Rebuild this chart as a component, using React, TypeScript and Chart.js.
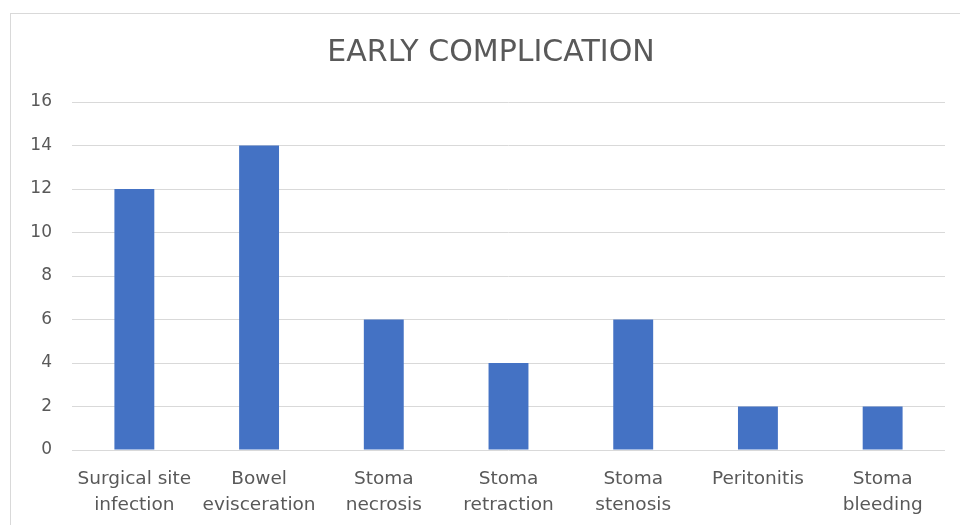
import React, { useEffect, useRef } from "react";
import { Chart, registerables } from "chart.js";

Chart.register(...registerables);

const categories: string[][] = [
  ["Surgical site", "infection"],
  ["Bowel", "evisceration"],
  ["Stoma", "necrosis"],
  ["Stoma", "retraction"],
  ["Stoma", "stenosis"],
  ["Peritonitis"],
  ["Stoma", "bleeding"],
];
const values: number[] = [12, 14, 6, 4, 6, 2, 2];
const yTicks: number[] = [0, 2, 4, 6, 8, 10, 12, 14, 16];
const titleText = "EARLY COMPLICATION";

const FONT = "'DejaVu Sans', 'Open Sans', sans-serif";
const TEXT = "#595959";

const titlePlugin = {
  id: "offsetTitle",
  afterDraw(chart: any) {
    const c = chart.ctx;
    c.save();
    c.fillStyle = TEXT;
    c.font = `normal 30px ${FONT}`;
    c.textAlign = "center";
    c.textBaseline = "middle";
    c.fillText(titleText, 491, 53);
    c.restore();
  },
};

export default function App() {
  const ref = useRef<HTMLCanvasElement | null>(null);
  useEffect(() => {
    document.body.style.margin = "0";
    const ctx = ref.current!;
    const chart = new Chart(ctx, {
      type: "bar",
      data: {
        labels: categories,
        datasets: [
          {
            data: values,
            backgroundColor: "#4472C4",
            categoryPercentage: 1,
            barPercentage: 0.32,
          },
        ],
      },
      options: {
        animation: false,
        responsive: false,
        maintainAspectRatio: false,
        layout: { padding: { left: 0, right: 15, top: 102, bottom: 0 } },
        plugins: {
          legend: { display: false },
          tooltip: { enabled: false },
          title: { display: false },
        },
        scales: {
          x: {
            grid: { display: false, drawTicks: false },
            border: { display: false },
            ticks: {
              color: TEXT,
              font: { family: FONT, size: 18.5, lineHeight: 26 / 18.5 },
              padding: 16,
              maxRotation: 0,
              autoSkip: false,
            },
            afterFit: (s: any) => {
              s.height = 75;
            },
          },
          y: {
            min: 0,
            max: 16,
            afterBuildTicks: (s: any) => {
              s.ticks = yTicks.map((v) => ({ value: v }));
            },
            grid: { color: "#d9d9d9", lineWidth: 1, drawTicks: false },
            border: { display: false },
            ticks: {
              color: TEXT,
              font: { family: FONT, size: 17 },
              padding: 20,
            },
            afterFit: (s: any) => {
              s.width = 72;
            },
          },
        },
      },
      plugins: [titlePlugin],
    });
    return () => chart.destroy();
  }, []);
  return (
    <div style={{ position: "relative", width: 960, height: 525, overflow: "hidden", background: "#fff" }}>
      <canvas ref={ref} width={960} height={525} style={{ position: "absolute", left: 0, top: 0 }} />
      <div
        style={{
          position: "absolute",
          left: 10,
          top: 13,
          width: 1000,
          height: 600,
          borderLeft: "1px solid #d9d9d9",
          borderTop: "1px solid #d9d9d9",
          pointerEvents: "none",
        }}
      />
    </div>
  );
}
